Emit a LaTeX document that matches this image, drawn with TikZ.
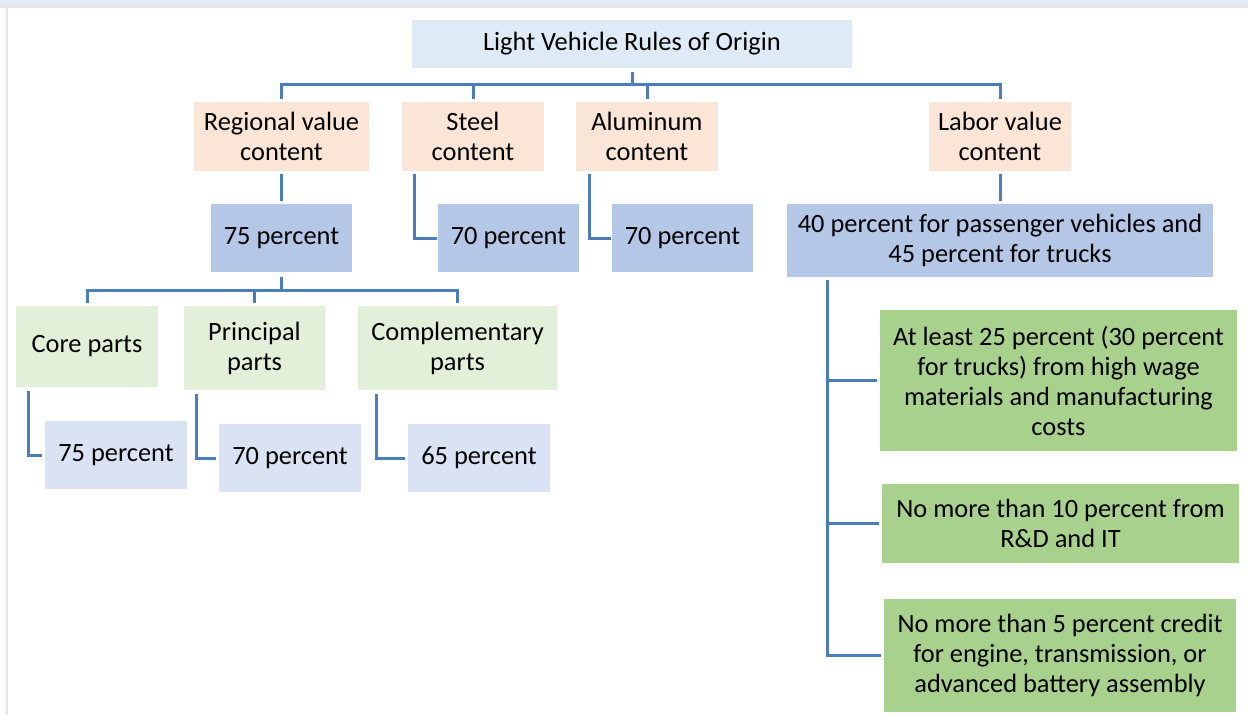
\documentclass[tikz,border=0pt]{standalone}
\usepackage{fontspec}
\setmainfont{Carlito}
\definecolor{titlec}{HTML}{DEEBF7}
\definecolor{peach}{HTML}{FBE5D6}
\definecolor{midblue}{HTML}{B4C7E7}
\definecolor{lgreen}{HTML}{E2F0D9}
\definecolor{lblue}{HTML}{DAE3F3}
\definecolor{dgreen}{HTML}{A9D18E}
\definecolor{linec}{RGB}{74,126,187}
\definecolor{framegray}{HTML}{E6E6E6}
\definecolor{topstrip}{HTML}{E3ECF7}
\begin{document}
\begin{tikzpicture}[x=1pt,y=-1pt,
  box/.style={rectangle,inner sep=0pt,align=center,font=\fontsize{26.4}{30}\selectfont,text=black},
  conn/.style={draw=linec,line width=3pt}]
\useasboundingbox (0,0) rectangle (1248,715);
\fill[white] (0,0) rectangle (1248,715);
% frame
\fill[topstrip] (0,0) rectangle (1248,3.5);
\fill[framegray] (0,4) rectangle (1248,7.5);
\fill[framegray] (5.5,7.5) rectangle (7.5,715);
% nodes
\node[box,fill=titlec,minimum width=440pt,minimum height=48pt] (title) at (632,44) {Light Vehicle Rules of Origin};
\node[box,fill=peach,minimum width=175pt,minimum height=69pt] (rvc) at (281.5,136.5) {Regional value\\content};
\node[box,fill=peach,minimum width=142pt,minimum height=69pt] (steel) at (473,136.5) {Steel\\content};
\node[box,fill=peach,minimum width=142pt,minimum height=69pt] (alum) at (647,136.5) {Aluminum\\content};
\node[box,fill=peach,minimum width=142pt,minimum height=69pt] (labor) at (1000,136.5) {Labor value\\content};
\node[box,fill=midblue,minimum width=141pt,minimum height=68pt] (p75) at (281.5,238) {75 percent};
\node[box,fill=midblue,minimum width=141pt,minimum height=68pt] (s70) at (508.5,238) {70 percent};
\node[box,fill=midblue,minimum width=141pt,minimum height=68pt] (a70) at (682.5,238) {70 percent};
\node[box,fill=midblue,minimum width=426pt,minimum height=73pt] (lab40) at (1000,240.5) {40 percent for passenger vehicles and\\45 percent for trucks};
\node[box,fill=lgreen,minimum width=142pt,minimum height=81pt] (core) at (87,346.5) {Core parts};
\node[box,fill=lgreen,minimum width=141pt,minimum height=84pt] (princ) at (254.5,348) {Principal\\parts};
\node[box,fill=lgreen,minimum width=199pt,minimum height=84pt] (comp) at (457.5,348) {Complementary\\parts};
\node[box,fill=lblue,minimum width=142pt,minimum height=68pt] (c75) at (116,455) {75 percent};
\node[box,fill=lblue,minimum width=142pt,minimum height=68pt] (p70) at (290,458) {70 percent};
\node[box,fill=lblue,minimum width=142pt,minimum height=68pt] (m65) at (479,458) {65 percent};
\node[box,fill=dgreen,minimum width=357pt,minimum height=141pt] (g1) at (1058.5,380.5) {At least 25 percent (30 percent\\for trucks) from high wage\\materials and manufacturing\\costs};
\node[box,fill=dgreen,minimum width=357pt,minimum height=79pt] (g2) at (1060.5,523.5) {No more than 10 percent from\\R\&D and IT};
\node[box,fill=dgreen,minimum width=352pt,minimum height=113pt] (g3) at (1060,655.5) {No more than 5 percent credit\\for engine, transmission, or\\advanced battery assembly};
% top bus
\coordinate (busT) at (632,84);
\draw[conn] ([yshift=-4pt]title.south) -- (busT);
\draw[conn] ([yshift=3pt]rvc.north) |- (busT) -| ([yshift=3pt]labor.north);
\draw[conn] ([yshift=3pt]steel.north) -- (steel.north |- busT);
\draw[conn] ([yshift=3pt]alum.north) -- (alum.north |- busT);
% second level
\draw[conn] ([yshift=-3pt]rvc.south) -- ([yshift=3pt]p75.north);
\draw[conn] ([xshift=13pt,yshift=-3pt]steel.south west) |- ([xshift=-1pt]s70.west);
\draw[conn] ([xshift=14pt,yshift=-3pt]alum.south west) |- ([xshift=-1pt]a70.west);
\draw[conn] ([yshift=-3pt]labor.south) -- ([yshift=3pt]lab40.north);
% parts bus
\coordinate (busP) at (281.5,290);
\draw[conn] ([yshift=-5pt]p75.south) -- (busP);
\draw[conn] ([yshift=3pt]core.north) |- (busP) -| ([yshift=3pt]comp.north);
\draw[conn] ([yshift=3pt]princ.north) -- (princ.north |- busP);
\draw[conn] ([xshift=13pt,yshift=-4pt]core.south west) |- ([xshift=-3pt]c75.west);
\draw[conn] ([xshift=13pt,yshift=-4pt]princ.south west) |- ([xshift=-3pt]p70.west);
\draw[conn] ([xshift=19pt,yshift=-4pt]comp.south west) |- ([xshift=-3pt]m65.west);
% labor spine
\coordinate (spine) at (828,280);
\draw[conn] ([xshift=41pt,yshift=-3pt]lab40.south west) |- ([xshift=-3pt]g3.west);
\draw[conn] (spine |- g1.west) -- ([xshift=-3pt]g1.west);
\draw[conn] (spine |- g2.west) -- ([xshift=-3pt]g2.west);
\end{tikzpicture}
\end{document}
